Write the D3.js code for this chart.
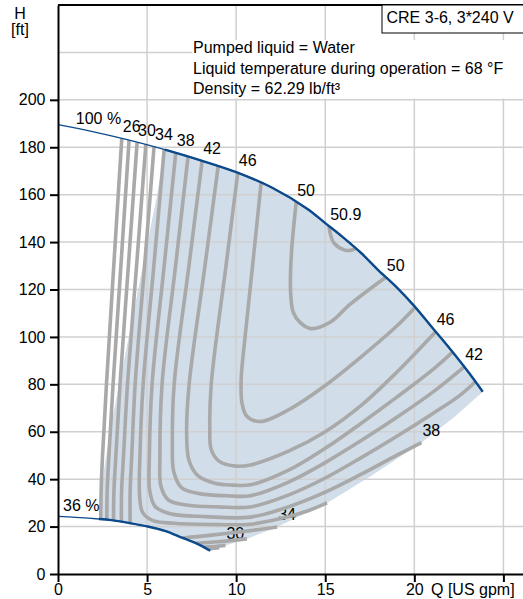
<!DOCTYPE html>
<html>
<head>
<meta charset="utf-8">
<script src="https://cdn.jsdelivr.net/npm/d3@7"></script>
<style>
  body { margin: 0; background: #fff; }
  svg text { font-family: "Liberation Sans", Arial, sans-serif; font-size: 16px; fill: #000; }
</style>
</head>
<body>
<div id="chart"></div>
<script>
// Q [US gpm], H [ft]
const pump100 = [[0,189.5],[2,186.5],[4,183],[6,179],[8,174.5],[10,169.5],[12,163],[14,154],[15,148],[16,142],[17,135.5],[18,128],[19,121],[20,113],[21,104],[22,95],[23,85.5],[23.84,76.9]];
const pump36 = [[0,24.3],[1,23.9],[2.3,23.2],[3,22.7],[4,21.5],[5,20.1],[6,18.2],[7,15.2],[7.8,12.8],[8.54,9.8]];
const lowerLimit = [[8.54,9.8],[9.05,11.1],[9.4,12.0],[10.6,14.8],[12.3,19.8],[15.1,30],[17.5,41],[20.4,55.4],[22.3,66.5],[23.84,76.9]];
const leftLimit = [[2.3,23.2],[2.58,43.9],[3.03,65],[3.6,86],[4.27,111.4],[4.94,136.7],[5.56,160],[6.0,179]];

// efficiency lines [%]
const eff26 = [[3.58,183.7],[3.13,130],[2.72,80],[2.5,50],[2.42,35],[2.4,23.1]];
const eff28 = [[3.99,183],[3.53,130],[3.09,80],[2.86,50],[2.76,35],[2.74,22.9]];
const eff30 = [[4.44,182.1],[3.95,130],[3.48,80],[3.25,50],[3.14,35],[3.12,22.6]];
const eff32 = [[4.93,181.1],[4.41,130],[3.9,80],[3.68,50],[3.57,35],[3.56,22.1]];
const eff34 = [[5.39,180.2],[4.86,130],[4.33,80],[4.14,50],[4.05,35],[4.05,21.5]];
const eff28b = [[8.35,10.6],[9.05,11.1]];
const eff30b = [[8.15,11.4],[8.8,11.6],[9.4,12.0]];
const eff32b = [[7.75,13.0],[9.0,13.6],[10.6,14.8]];
const eff34b = [[7.0,15.2],[8.5,16.3],[10.8,18.3],[12.3,19.8]];
const eff36 = [[5.96,179.1],[5.38,130],[4.78,80],[4.6,50],[4.58,33],[4.75,26],[5.3,22.6],[6.5,21.4],[8.5,20.9],[10.8,21],[12.5,23.4],[14,26.6],[15.1,30]];
const eff38 = [[6.61,177.6],[5.96,130],[5.28,80],[5.13,50],[5.15,35],[5.45,28.5],[6.3,25.4],[8.3,24.2],[10.8,24],[13,28.5],[15,34.5],[17,42],[19,50],[20.4,55.4]];
const eff40 = [[7.3,176.1],[6.6,130],[5.84,80],[5.72,50],[5.78,37],[6.2,31.2],[7.3,29],[9,28.3],[10.8,28.3],[13,33.5],[15,40.5],[17,49],[19,58],[21,67.5],[22.5,75],[23.43,81.1]];
const eff42 = [[8.09,174.3],[7.35,130],[6.52,80],[6.42,55],[6.5,43],[6.95,36.3],[8,33.8],[9.5,33],[10.8,33],[13,39],[15,47],[17,56.2],[19,66],[21,76.5],[22.8,87.4]];
const eff44 = [[8.99,172],[8.25,130],[7.36,80],[7.22,60],[7.35,48],[7.85,41.5],[8.8,38.3],[9.8,37.5],[10.8,37.6],[13,44],[15,53],[17,63.5],[19,74.5],[21,86],[22.15,93.6]];
const eff46 = [[10.09,169.2],[9.43,130],[8.6,80],[8.52,62],[8.6,52.5],[9.05,47.5],[10,45.5],[10.8,46],[13,52],[15,60],[17,71],[19,85],[21.2,102.2]];
const eff48 = [[11.4,165],[10.92,130],[10.5,100],[10.28,82],[10.33,72],[10.6,66.5],[11.35,64.3],[13,69.5],[15,79.5],[17,91.5],[19,104.5],[20.05,112.55]];
const eff50 = [[13.37,156.8],[13.1,135],[13.05,120],[13.2,110.5],[13.6,106],[14.2,103.5],[15.3,106.3],[16.4,113.8],[18.4,125.2]];
const eff509 = [[15.22,146.7],[15.3,143],[15.5,139.5],[16.1,136.6],[16.4,136.5],[16.72,137.3]];

const effLines = [eff26, eff28, eff30, eff32, eff34, eff28b, eff30b, eff32b, eff34b, eff36, eff38, eff40, eff42, eff44, eff46, eff48, eff50, eff509];

// label text, line, which end (0 = first point, -1 = last point)
const effLabels = [["26", eff26, 0], ["30", eff30, 0], ["34", eff34, 0], ["38", eff38, 0], ["42", eff42, 0], ["46", eff46, 0], ["50", eff50, 0], ["50.9", eff509, 0],
                   ["50", eff50, -1], ["46", eff46, -1], ["42", eff42, -1], ["38", eff38, -1]];
const lowLabels = [["34", eff34b, -1], ["30", eff30b, -1]];
const curveLabels = [["100 %", [1.0, 189.7]], ["36 %", [0.28, 26.4]]];

const xTicks = [0, 5, 10, 15, 20, 25];
const yTicks = [0, 20, 40, 60, 80, 100, 120, 140, 160, 180, 200];
const xGrid = [5, 10, 15, 20, 25];
const yGrid = [20, 40, 60, 80, 100, 120, 140, 160, 180, 200, 220];
const infoLines = ["Pumped liquid = Water", "Liquid temperature during operation = 68 °F", "Density = 62.29 lb/ft³"];
const titleText = "CRE 3-6, 3*240 V";

// set the dimensions and margins of the graph
var margin = {top: 5, right: 0, bottom: 25, left: 58},
    width = 523 - margin.left - margin.right,
    height = 599 - margin.top - margin.bottom;

const svg = d3.select("#chart")
  .append("svg")
    .attr("width", width + margin.left + margin.right)
    .attr("height", height + margin.top + margin.bottom)
  .append("g")
    .attr("transform", `translate(${margin.left}, ${margin.top})`);

const x = d3.scaleLinear().domain([0, 26.1]).range([0, width]);
const y = d3.scaleLinear().domain([0, 240]).range([height, 0]);

const line = d3.line().x(d => x(d[0])).y(d => y(d[1])).curve(d3.curveCatmullRom.alpha(0.5));

// operating area
const areaPts = leftLimit.concat(
  pump100.filter(d => d[0] > 6.0),
  lowerLimit.slice().reverse(),
  pump36.filter(d => d[0] > 2.3).reverse());
svg.append("path")
  .attr("d", d3.line().x(d => x(d[0])).y(d => y(d[1]))(areaPts) + "Z")
  .attr("fill", "#d1dde8");

// grid
svg.selectAll(".vgrid").data(xGrid).enter().append("line")
  .attr("x1", d => x(d)).attr("x2", d => x(d))
  .attr("y1", y(0)).attr("y2", y(240))
  .attr("stroke", "#d0d0d0").attr("stroke-width", 1.5);
svg.selectAll(".hgrid").data(yGrid).enter().append("line")
  .attr("x1", 0).attr("x2", width)
  .attr("y1", d => y(d)).attr("y2", d => y(d))
  .attr("stroke", "#d0d0d0").attr("stroke-width", 1.5);

// lower labels sit under the lines
svg.selectAll(".lowlab").data(lowLabels).enter().append("text")
  .attr("x", d => x(d[1].at(d[2])[0]) + 1)
  .attr("y", d => y(d[1].at(d[2])[1]) - 7)
  .text(d => d[0]);

// efficiency lines
svg.selectAll(".eff").data(effLines).enter().append("path")
  .attr("d", d => line(d))
  .attr("fill", "none")
  .attr("stroke", "#a9a9a9")
  .attr("stroke-width", 3.6)
  .attr("stroke-linecap", "butt");

// pump curves: thin over full range, thick over the operating area
const blue = "#0b4a8b";
svg.append("path").attr("d", line(pump100)).attr("fill", "none").attr("stroke", blue).attr("stroke-width", 1.3);
svg.append("path").attr("d", line(pump100.filter(d => d[0] >= 6))).attr("fill", "none").attr("stroke", blue).attr("stroke-width", 2.4);
svg.append("path").attr("d", line(pump36)).attr("fill", "none").attr("stroke", blue).attr("stroke-width", 1.3);
svg.append("path").attr("d", line(pump36.filter(d => d[0] >= 2.3))).attr("fill", "none").attr("stroke", blue).attr("stroke-width", 2.4);

// labels
svg.selectAll(".efflab").data(effLabels).enter().append("text")
  .attr("x", d => x(d[1].at(d[2])[0]) + 1)
  .attr("y", d => y(d[1].at(d[2])[1]) - 6.5)
  .text(d => d[0]);
svg.selectAll(".curvelab").data(curveLabels).enter().append("text")
  .attr("x", d => x(d[1][0]))
  .attr("y", d => y(d[1][1]))
  .text(d => d[0]);

// info block on white
svg.append("rect")
  .attr("x", 134).attr("y", 35).attr("width", width - 134).attr("height", 58.5)
  .attr("fill", "#fff");
svg.selectAll(".info").data(infoLines).enter().append("text")
  .attr("x", 135)
  .attr("y", (d, i) => 48 + i * 20.5)
  .text(d => d);

// axes
const yAxis = svg.append("g")
  .call(d3.axisLeft(y).tickValues(yTicks).tickSize(8).tickSizeOuter(0).tickPadding(4.5));
const xAxis = svg.append("g")
  .attr("transform", `translate(0, ${height})`)
  .call(d3.axisBottom(x).tickValues(xTicks).tickSize(8).tickSizeOuter(0).tickPadding(2)
    .tickFormat(d => d === 25 ? "" : d));
[yAxis, xAxis].forEach(a => {
  a.select(".domain").attr("stroke", "#000").attr("stroke-width", 2);
  a.selectAll(".tick line").attr("stroke", "#000").attr("stroke-width", 2);
  a.selectAll("text").attr("font-size", null).attr("font-family", null);
});
svg.append("line")
  .attr("x1", 0).attr("x2", width).attr("y1", 0).attr("y2", 0)
  .attr("stroke", "#000").attr("stroke-width", 2);

// title box
svg.append("rect")
  .attr("x", 324).attr("y", 0).attr("width", 160).attr("height", 28)
  .attr("fill", "#fff").attr("stroke", "#000").attr("stroke-width", 1);
svg.append("text").attr("x", 328.5).attr("y", 18).text(titleText);

// axis labels
svg.append("text").attr("text-anchor", "middle").attr("x", -38).attr("y", 14).text("H");
svg.append("text").attr("text-anchor", "middle").attr("x", -38).attr("y", 29.5).text("[ft]");
svg.append("text").attr("x", 373).attr("y", height + 21).text("Q [US gpm]");
</script>
</body>
</html>
